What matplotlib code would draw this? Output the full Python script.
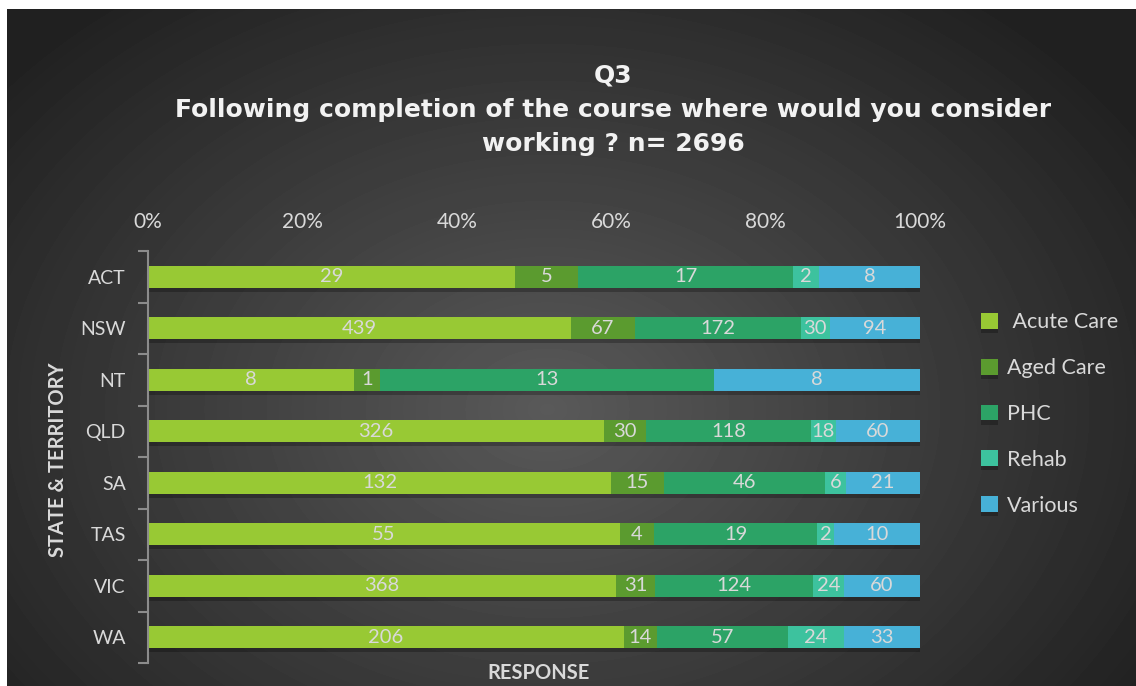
import numpy as np
import matplotlib.pyplot as plt
import matplotlib.patheffects as pe

states = ['ACT', 'NSW', 'NT', 'QLD', 'SA', 'TAS', 'VIC', 'WA']
series = [' Acute Care', 'Aged Care', 'PHC', 'Rehab', 'Various']
acute = [29, 439, 8, 326, 132, 55, 368, 206]
aged = [5, 67, 1, 30, 15, 4, 31, 14]
phc = [17, 172, 13, 118, 46, 19, 124, 57]
rehab = [2, 30, 0, 18, 6, 2, 24, 24]
various = [8, 94, 8, 60, 21, 10, 60, 33]
colors = ['#98c934', '#5b9b2f', '#2ca366', '#3dc29e', '#47b1d7']
xticks = [0, 20, 40, 60, 80, 100]

txt = '#d9d9d9'
plt.rcParams['font.family'] = ['Lato', 'DejaVu Sans']

fig = plt.figure(figsize=(11.36, 6.86), dpi=100, facecolor='white')

# dark radial background panel
bg = fig.add_axes([7 / 1136, 0, 1129 / 1136, 677 / 686])
yy, xx = np.mgrid[0:677, 0:1129]
r = np.sqrt(((xx - 540) / 700.0) ** 2 + ((yy - 400) / 520.0) ** 2)
shade = np.clip(0.35 - 0.22 * r, 0.13, 0.35)
bg.imshow(shade, cmap='gray', vmin=0, vmax=1, aspect='auto', interpolation='bilinear')
bg.axis('off')

ax = fig.add_axes([148 / 1136, 1 - 663 / 686, 772 / 1136, 412 / 686])
ax.patch.set_alpha(0)

data = np.array([acute, aged, phc, rehab, various], dtype=float)
totals = data.sum(axis=0)
pct = data / totals * 100
y = np.arange(len(states))
left = np.zeros(len(states))
shadow = [pe.SimplePatchShadow(offset=(0, -3), shadow_rgbFace='black', alpha=0.25), pe.Normal()]
for i, name in enumerate(series):
    bars = ax.barh(y, pct[i], left=left, height=0.43, color=colors[i], label=name,
                   edgecolor='none', path_effects=shadow)
    labels = [f'{int(v)}' if v > 0 else '' for v in data[i]]
    ax.bar_label(bars, labels=labels, label_type='center', color=txt, fontsize=14.5)
    left += pct[i]

ax.set_xlim(0, 100)
ax.set_ylim(len(states) - 0.5, -0.5)
ax.xaxis.tick_top()
ax.set_xticks(xticks)
ax.set_xticklabels([f'{t}%' for t in xticks], color=txt, fontsize=15)
ax.tick_params(axis='x', length=0, pad=14)

ax.set_yticks(np.arange(len(states) + 1) - 0.5)
ax.set_yticklabels([])
ax.set_yticks(y, minor=True)
ax.set_yticklabels(states, minor=True, color=txt, fontsize=14)
ax.tick_params(axis='y', which='major', length=7, width=1.5, color='#8c8c8c', direction='out')
ax.tick_params(axis='y', which='minor', length=0, pad=16)

for s in ['top', 'right', 'bottom']:
    ax.spines[s].set_visible(False)
ax.spines['left'].set_color('#8c8c8c')
ax.spines['left'].set_linewidth(1.5)

fig.text(58 / 1136, 1 - 460 / 686, 'STATE & TERRITORY', rotation=90, ha='center', va='center',
         color=txt, fontsize=14.5, fontweight='bold')
fig.text(539 / 1136, 1 - 673 / 686, 'RESPONSE', ha='center', va='center',
         color=txt, fontsize=14.5, fontweight='bold')
fig.text(613 / 1136, 1 - 110 / 686,
         'Q3\nFollowing completion of the course where would you consider\nworking ? n= 2696',
         ha='center', va='center', color='#f2f2f2', fontsize=18, fontweight='bold',
         family='DejaVu Sans', linespacing=1.55)

ax.legend(loc='center left', bbox_to_anchor=(962 / 1136, 1 - 414 / 686), bbox_transform=fig.transFigure,
          frameon=False, fontsize=15.5, labelcolor=txt, handlelength=0.75, handleheight=0.75,
          labelspacing=1.2, handletextpad=0.45)

fig.savefig('out.png', dpi=100, facecolor='white')
